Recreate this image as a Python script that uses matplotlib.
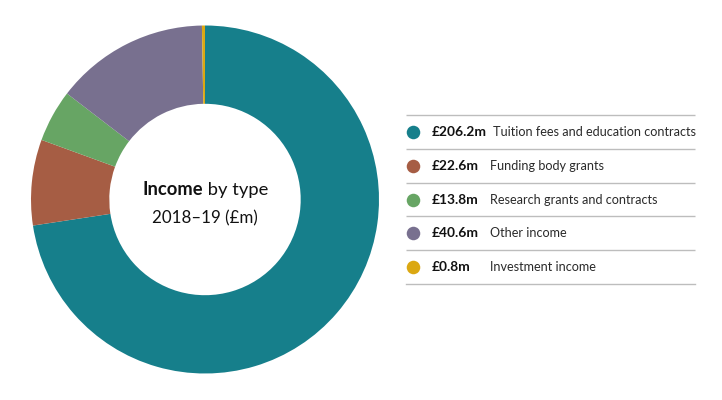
import matplotlib
matplotlib.use("Agg")
import matplotlib.pyplot as plt

# Data
categories = ["Tuition fees and education contracts", "Funding body grants",
              "Research grants and contracts", "Other income", "Investment income"]
values = [206.2, 22.6, 13.8, 40.6, 0.8]
colors = ["#167F8B", "#A65D44", "#67A564", "#78708F", "#DBA812"]
title_bold = "Income"
title_rest = " by type"
subtitle = "2018–19 (£m)"

FONT = "Lato"
W, H = 722, 400
fig = plt.figure(figsize=(W / 100, H / 100), dpi=100)
fig.patch.set_facecolor("white")

# Donut axes (pixel placement)
cx, cy, R = 205, 199.5, 174
ax = fig.add_axes([(cx - R) / W, (H - cy - R) / H, 2 * R / W, 2 * R / H])
ax.pie(values, colors=colors, startangle=90, counterclock=False,
       radius=1.0, wedgeprops=dict(width=0.45, linewidth=0))
ax.set_xlim(-1, 1)
ax.set_ylim(-1, 1)
ax.set_aspect("equal")
ax.axis("off")

# Centre text
renderer = fig.canvas.get_renderer()
t1 = ax.text(0, 0, title_bold, fontsize=13.2, fontweight="bold", family=FONT,
             ha="left", va="baseline", color="#111111")
t2 = ax.text(0, 0, title_rest, fontsize=13.2, family=FONT,
             ha="left", va="baseline", color="#111111")
w1 = t1.get_window_extent(renderer).width
w2 = t2.get_window_extent(renderer).width
tot = w1 + w2
px2data = 2.0 / (2 * R)
x0 = -tot / 2 * px2data
yb1 = (cy - 195) * px2data
t1.set_position((x0, yb1))
t2.set_position((x0 + w1 * px2data, yb1))
ax.text(0, (cy - 223.5) * px2data, subtitle, fontsize=12.2, family=FONT,
        ha="center", va="baseline", color="#111111")

# Legend axes in pixel coordinates
lax = fig.add_axes([0, 0, 1, 1])
lax.set_xlim(0, W)
lax.set_ylim(H, 0)
lax.axis("off")

line_x0, line_x1 = 406, 695
row_top = 115
row_h = 33.8
for i, (cat, val, col) in enumerate(zip(categories, values, colors)):
    y_line = row_top + i * row_h
    lax.plot([line_x0, line_x1], [y_line, y_line], color="#BDBDBD", lw=1.0,
             solid_capstyle="butt")
    yc = y_line + row_h / 2
    lax.scatter([413], [yc], s=95, color=col, linewidths=0, zorder=3)
    lax.text(432, yc, f"£{val:.1f}m", fontsize=9.9, fontweight="bold",
             family=FONT, ha="left", va="center", color="#111111")
    lab_x = 493 if i == 0 else 490
    lax.text(lab_x, yc, cat, fontsize=9.1, family=FONT, ha="left",
             va="center", color="#2A2A2A")
y_last = row_top + len(categories) * row_h
lax.plot([line_x0, line_x1], [y_last, y_last], color="#BDBDBD", lw=1.0)

fig.savefig("out.png", dpi=100, facecolor="white")
